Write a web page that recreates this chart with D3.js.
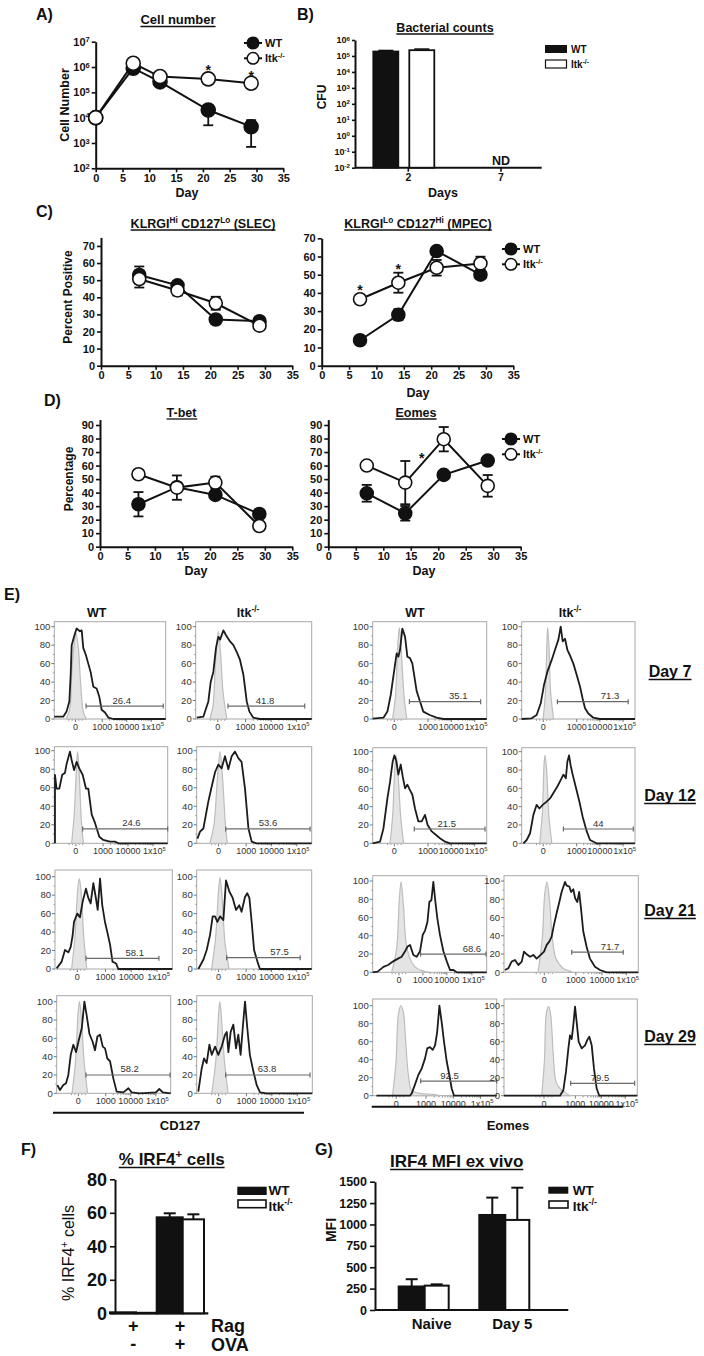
<!DOCTYPE html>
<html><head><meta charset="utf-8">
<script src="https://cdn.jsdelivr.net/npm/d3@7"></script>
<style>
body{margin:0;background:#fff}
svg{display:block}
text{font-family:"Liberation Sans",Arial,Helvetica,sans-serif}
</style></head><body>
<svg id="c" width="704" height="1356"></svg>
<script>
// ================= DATA =================
// Panel A: cell number (log)
const aDays=[0,7,12,21,29];
const aWT=[1e4,9e5,2.6e5,2e4,4.4e3];
const aWTlo=[null,null,1.8e5,5e3,7e2];
const aWThi=[null,null,null,3.2e4,8e3];
const aItk=[1e4,1.4e6,4.2e5,3.4e5,2.3e5];
const aStarDays=[21,29];
const aStarVals=[1e6,5.7e5];
const aYExp=[2,3,4,5,6,7];
const dayTicks=[0,5,10,15,20,25,30,35];

// Panel B: bacterial counts
const bDays=["2","7"];
const bWT=[1.9e5,null];
const bItk=[2.3e5,null];
const bWTerr=[2.2e5,null];
const bItkErr=[2.7e5,null];
const bYExp=[-2,-1,0,1,2,3,4,5,6];

// Panel C
const cDays=[7,14,21,29];
const slecWT=[53,47,27,26], slecWTsem=[5,1.5,1,1];
const slecItk=[50.7,44,36.5,23.4], slecItkSem=[5,3,3.8,1];
const mpecWT=[14,28,63,50], mpecWTsem=[1,3,1,1.5];
const mpecItk=[36.5,45.6,53.8,56.2], mpecItkSem=[1,5.5,4.3,3.7];
const mpecStarDays=[7,14], mpecStarVals=[43.4,55];
const cYTicks=[0,10,20,30,40,50,60,70];

// Panel D
const tbetWT=[31.4,44,38.3,24.2], tbetWTsem=[9,2,1.5,1];
const tbetItk=[53.6,43.7,47.4,15.3], tbetItkSem=[1,9,4.4,1];
const eomWT=[39.5,24.7,53.1,63.7], eomWTsem=[6.2,5.4,1,1];
const eomItk=[60,47.4,79.5,45], eomItkSem=[1,16,9,8];
const eomStarDays=[17], eomStarVals=[67.8];
const dYTicks=[0,10,20,30,40,50,60,70,80,90];

// Panel E: histograms [channel (0-100 of axis), % of max]
const r1c1=[[0,2.5],[8,2.5],[11,8],[13.5,19],[14.7,48],[15.6,80],[17.7,89],[20,98],[23,95],[24.6,96],[26,77],[28.4,69],[30.5,60],[32.6,51],[35,35],[38,33],[40.4,24],[42.5,10],[45.5,7],[48.5,1.5],[53,0],[100,0]];
const r1c1i=[[11,0.7],[14,11.5],[15.6,48],[17.7,80],[19.5,93],[21.6,77],[23.7,37],[26,8],[28.4,0.7]];
const r1c2=[[0.9,1.4],[6.6,2.5],[10.9,19],[12.9,40],[15.2,51],[17.5,77],[19.5,89],[21,86],[23.9,96],[26,91],[29.6,84],[32.5,80],[35.9,71],[38.2,64],[41.1,48],[44,19],[46.3,8],[49.7,1.4],[55.5,0],[100,0]];
const r1c2i=[[12.4,0.5],[15,15],[17,60],[19.5,95],[21.5,70],[23.5,30],[26.7,1]];
const r1c3=[[0,0.5],[9.4,1.4],[12.9,8],[15.8,26],[18.7,51],[21,71],[22.5,67.5],[24,75],[26,98],[28.4,89],[30.4,67.5],[32.7,66],[34.8,60],[36.3,48],[38.6,30],[41.5,19],[44.4,8],[50,4.3],[56,1.4],[62,0],[100,0]];
const r1c3i=[[17.5,0.5],[20,25],[22,80],[23.4,99],[25,75],[27.5,25],[29.8,1]];
const r1c4=[[0,0],[8.8,0.7],[13.2,4.3],[16.8,17],[19.7,37],[22.6,51],[26.5,64],[29.4,75],[32.4,86],[34.4,100],[36.2,84],[38.2,87],[40.3,75],[42.6,69],[45.6,60],[48.5,48],[51.5,35],[53.8,22],[55.9,11.6],[58.8,6],[63.2,1.4],[69,0],[100,0]];
const r1c4i=[[19,0.5],[21,30],[22.3,85],[22.9,99],[24,80],[25.5,30],[28,1]];
const r2c1=[[0.6,0],[0.6,74],[2,59],[4.4,59],[7,74],[9.4,76],[10.9,86],[13.8,99],[15.3,90],[17.4,79],[19.7,88],[22,81],[25,74],[28,59],[30,59],[33,31],[35.9,22],[39.7,7],[43.2,3.6],[49,1.8],[53.5,1.8],[56.5,0],[100,0]];
const r2c1i=[[15.3,0.5],[17.5,30],[19.5,80],[20.6,99],[22,75],[23.8,25],[25.6,1]];
const r2c2=[[0.6,5],[2.9,12.6],[5.8,16],[10.1,45],[13,61],[16,77],[18.8,85],[21.7,81],[24.6,94],[27.5,80],[30.4,94],[33.3,99],[36.2,92],[39,88],[42,59],[45,16],[47.8,1.8],[52,0],[100,0]];
const r2c2i=[[11.5,0.5],[15,20],[18,70],[20.3,99],[22.5,70],[25,20],[26.5,1]];
const r2c3=[[0,0],[6.4,1.8],[9.4,16],[12.9,49],[15.2,67],[17.5,89],[19,96],[20.5,91],[22.5,75],[24.6,86],[26.3,73],[28.4,60],[30.4,64],[32.7,58],[34.8,53],[37.1,38],[40,24],[43,24],[45.9,31],[48.2,20],[51.8,13],[55.6,9],[59,5.5],[63.5,1.8],[67.8,0],[100,0]];
const r2c3i=[[15.2,0.5],[17.5,30],[19.5,85],[20.5,96],[22,80],[24.5,30],[27,1]];
const r2c4=[[1.5,0],[4.4,3.6],[7.4,11],[10.3,31],[13.2,42],[15.6,38],[18.5,42],[21.5,45],[25,49],[28.5,56],[31.5,62],[34.4,69],[36.8,75],[39,71],[40.3,89],[41.8,96],[43.2,85],[45,75],[48,60],[51,45],[53.8,29],[57.4,13],[60.3,3.6],[66,0],[100,0]];
const r2c4i=[[16,0.5],[18.3,35],[19.8,88],[20.6,96],[22,80],[24,30],[26.5,1]];
const r3c1=[[1.4,0.7],[5.7,8],[8.5,20.6],[11.4,18],[13.4,24],[15,36],[16.2,51],[19,60],[21.3,56],[23.6,73],[26.4,87],[28.4,77],[30.4,71],[32.7,93],[34.7,78],[36.4,64],[38.4,98],[40.3,69],[42.6,51],[44.6,40],[47,26],[49,8],[52,6],[54,0],[100,0]];
const r3c1i=[[14.2,0.5],[17,35],[19.3,85],[20.7,98],[22.5,80],[24.5,35],[27,1]];
const r3c2=[[1.4,0],[5.8,10],[8.7,20.6],[11.6,37],[13.9,57],[15.9,57],[18,51],[20.3,57],[23.2,53],[25.5,96],[28.4,84],[31.3,77],[34.2,64],[37,69],[39,62],[42,78],[44,82],[45.8,77],[47.8,51],[49.9,20.6],[52.8,8],[55,0],[100,0]];
const r3c2i=[[13,0.5],[16.5,35],[19,85],[20.3,99],[22,80],[24.5,30],[28,1]];
const r3c3=[[0,0],[4.4,0.7],[9.4,6],[13.5,8],[18,12],[22.2,15],[25.4,17],[28.4,23],[30.4,28],[32.7,30],[35.7,19],[38.6,17],[41.5,23],[43.9,41],[46,46],[48,55],[49.7,77],[51.5,79],[53.2,99],[55,77],[56.7,59],[59,41],[62,23],[65,12],[67.8,2.5],[70.8,2.5],[73.7,0],[100,0]];
const r3c3i=[[16.7,0.7],[21,26],[23.4,81],[24.9,99],[27,73],[29.2,33],[32.7,15],[37,6],[44,1.5],[50,0]];
const r3c4=[[0.7,2.5],[3.2,4.4],[5.7,11.7],[8.2,13.5],[10.7,8],[13.2,11.7],[14.9,22.6],[16.9,19.7],[19.4,17],[21.8,19],[24.3,15],[27.3,19],[29.8,22.6],[31.8,30],[33.7,33.6],[35.5,39],[37.2,52],[39.2,65],[41.2,77],[42.9,88],[45.4,99],[46.7,95],[48.6,94],[50,88],[51.6,91],[53,81],[54.6,77],[56,88],[57.6,66],[59,45],[61.5,28],[64,15],[67.7,6],[71.5,2.5],[76.4,0],[100,0]];
const r3c4i=[[25.3,0],[28.5,37],[30.3,85],[32,99],[34,77],[36,37],[38.7,15],[44,4.4],[50.4,0.7]];
const r4c1=[[0.6,9],[2.9,3.6],[5.8,9],[8.2,11],[10.2,20],[12.3,42],[14.6,53],[17,45],[19,56],[22,71],[24.3,100],[26.3,85],[28.7,65],[31.6,56],[33.6,47],[35.7,62],[38,64],[40.4,51],[42.4,49],[44.4,38],[46.8,35],[49.7,16],[52.6,1.8],[58.5,1],[62.9,5.5],[65.8,1],[73,0],[87,1],[90,4.7],[93,1],[100,0]];
const r4c1i=[[13.5,0.5],[16.5,35],[18.8,88],[20,100],[21.8,80],[24,35],[27,1]];
const r4c2=[[1.4,1.8],[4.3,27],[6.3,38],[8.6,33],[11,53],[13,42],[15.9,51],[18.7,42],[21.6,51],[24.5,64],[26,67],[27.4,45],[29.4,67],[31.7,75],[34,49],[36,64],[38,42],[39.8,71],[41.8,100],[43.8,71],[46,42],[49,24],[51.9,9],[54.8,1],[60.5,0],[100,0]];
const r4c2i=[[13,0.5],[16.5,35],[19,88],[20,100],[21.5,80],[24,35],[27,1]];
const r4c3=[[3,0],[30,0],[31.5,2.6],[34,12],[36.8,23],[39.5,30],[42.2,41.5],[44,52.6],[46.2,54],[48.4,51],[50.3,56],[52,71],[53.8,100],[55.6,82],[57.5,60],[59.7,38],[61.8,23],[63.7,8],[65.6,0],[100,0]];
const r4c3i=[[16,0],[18.8,38],[20.7,90],[22.6,100],[24.7,93],[26.6,60],[28.8,23],[31.5,6],[38,2.6],[49,1.5],[54,0]];
const r4c4=[[0,0],[42,0],[44.5,6],[46.5,26.7],[48.3,52.6],[49.5,67],[50.8,63],[52,78.5],[53.3,99],[54.5,82],[56,60],[58.3,52.6],[60.8,56],[62.5,62],[64,65.6],[65.8,56],[67.5,30],[69.5,8],[71.5,0],[100,0]];
const r4c4i=[[28.3,0],[30.3,38],[32,94],[33.5,99],[35,90],[37,45],[39,15.6],[42,8],[45.8,3.7],[49.5,0]];
// gates: [start, end, level, label position, label]
const eGates=[
 [[28.5,97.8,14,60.5,"26.4"],[27.8,94,14,59.8,"41.8"],[32.2,94.7,18.8,75,"35.1"],[31.5,94,18.8,78,"71.3"]],
 [[25,100,15.5,68,"24.6"],[25.2,98.6,15.5,62,"53.6"],[36.5,98.5,15.6,65,"21.5"],[36.8,98.5,15.6,67.6,"44"]],
 [[26.4,88.6,11.6,68,"58.1"],[26,90,12.3,72,"57.5"],[42,99.4,20,87,"68.6"],[50.4,88.8,22,79,"71.7"]],
 [[25.7,99.4,20,64,"58.2"],[25,98,20,60.8,"63.8"],[38.7,100,16.3,62,"92.5"],[50,98,13.7,72,"79.5"]]];
const eTickLabels=["0","1000","10000","1x10"];
const ticksA=[19,43,65,87], ticksB=[19,48.5,69,89.5], ticksC=[23,44,65,87], ticksD=[30,53.5,73,91];
const eYTicks=[0,20,40,60,80,100];
const eDays=["Day 7","Day 12","Day 21","Day 29"];

// Panel F
const fGroups=["g1","g2"];
const fRag=["+","+"], fOva=["-","+"];
const fWT=[0.6,57.3], fItk=[0.3,56.1];
const fWTerr=[null,59.7], fItkErr=[null,59.1];
const fYTicks=[0,20,40,60,80];

// Panel G
const gGroups=["Naive","Day 5"];
const gWT=[275,1111], gItk=[285,1053];
const gWTerr=[360,1314], gItkErr=[300,1430];
const gYTicks=[0,250,500,750,1000,1250,1500];

// ================= DRAWING =================
const svg=d3.select('#c');
const INK='#111';

function rich(t,parts,fs){
  let up=false;
  parts.forEach(p=>{
    const ts=t.append('tspan').text(p[0]);
    if(p[1]){ts.attr('font-size',fs*0.66).attr('dy',up?0:-fs*0.4);up=true;}
    else if(up){ts.attr('dy',fs*0.4);up=false;}
  });
}
function txt(g,x,y,s,o={}){
  const fs=o.fs||12;
  const t=g.append('text').attr('x',x).attr('y',y).attr('font-size',fs)
    .attr('font-weight',o.fw||'bold').attr('text-anchor',o.anchor||'start').attr('fill',o.fill||INK);
  if(o.rot!==undefined) t.attr('transform',`rotate(${o.rot},${x},${y})`);
  rich(t,typeof s==='string'?[[s]]:s,fs);
  return t;
}
function underline(g,t,dy,w){
  const b=t.node().getBBox();const y=+t.attr('y')+dy;
  g.append('line').attr('x1',b.x).attr('x2',b.x+b.width).attr('y1',y).attr('y2',y)
   .attr('stroke',INK).attr('stroke-width',w||1.3);
}
function styleAxis(a,fs){
  a.attr('font-family',null).attr('font-size',null);
  a.select('.domain').attr('stroke',INK).attr('stroke-width',2);
  a.selectAll('.tick line').attr('stroke',INK).attr('stroke-width',1.6);
  a.selectAll('.tick text').attr('font-size',fs).attr('font-weight','bold').attr('fill',INK);
}
const supFmt=function(d){const t=d3.select(this);const e=Math.round(Math.log10(d));t.text(null);
  t.append('tspan').text('10');t.append('tspan').attr('dy','-0.45em').attr('font-size','0.68em').text(e);};

function linePanel(o){
  const g=svg.append('g');const x=o.x,y=o.y;
  const gy=g.append('g').attr('transform',`translate(${x.range()[0]},0)`)
    .call(d3.axisLeft(y).tickValues(o.yTicks).tickSize(4).tickSizeOuter(0).tickPadding(2));
  const gx=g.append('g').attr('transform',`translate(0,${y.range()[0]})`)
    .call(d3.axisBottom(x).tickValues(dayTicks).tickSize(4).tickSizeOuter(0).tickPadding(2));
  styleAxis(gy,o.fs||11);styleAxis(gx,o.fs||11);
  if(o.supY) gy.selectAll('.tick text').each(supFmt);
  const line=d3.line().defined(d=>d[1]!=null).x(d=>x(d[0])).y(d=>y(d[1]));
  const series=[{v:o.wt,lo:o.wtLo,hi:o.wtHi,fill:INK},{v:o.itk,lo:o.itkLo,hi:o.itkHi,fill:'#fff'}];
  series.forEach(s=>g.append('path').attr('d',line(o.days.map((d,i)=>[d,s.v[i]])))
    .attr('fill','none').attr('stroke',INK).attr('stroke-width',2));
  const cw=5;
  series.forEach(s=>o.days.forEach((d,i)=>{
    const lo=s.lo?s.lo[i]:null, hi=s.hi?s.hi[i]:null; if(lo==null&&hi==null) return;
    const a=y(lo!=null?lo:s.v[i]), b=y(hi!=null?hi:s.v[i]), cx=x(d);
    g.append('line').attr('x1',cx).attr('x2',cx).attr('y1',a).attr('y2',b).attr('stroke',INK).attr('stroke-width',1.8);
    if(lo!=null) g.append('line').attr('x1',cx-cw).attr('x2',cx+cw).attr('y1',a).attr('y2',a).attr('stroke',INK).attr('stroke-width',1.8);
    if(hi!=null) g.append('line').attr('x1',cx-cw).attr('x2',cx+cw).attr('y1',b).attr('y2',b).attr('stroke',INK).attr('stroke-width',1.8);
  }));
  series.forEach(s=>o.days.forEach((d,i)=>{ if(s.v[i]==null) return;
    g.append('circle').attr('cx',x(d)).attr('cy',y(s.v[i])).attr('r',o.r||6.5)
     .attr('fill',s.fill).attr('stroke',INK).attr('stroke-width',1.6);}));
  if(o.stars) o.stars[0].forEach((d,i)=>txt(g,x(d),y(o.stars[1][i])+8,'*',{fs:14,anchor:'middle'}));
  return g;
}
function legendLines(cx,cy,gap){
  const g=svg.append('g');
  [[true,[['WT']]],[false,[['Itk'],['-/-',1]]]].forEach((l,i)=>{
    const yy=cy+i*gap;
    g.append('line').attr('x1',cx-9).attr('x2',cx+9).attr('y1',yy).attr('y2',yy).attr('stroke',INK).attr('stroke-width',2);
    g.append('circle').attr('cx',cx).attr('cy',yy).attr('r',5.8).attr('fill',l[0]?INK:'#fff').attr('stroke',INK).attr('stroke-width',1.5);
    txt(g,cx+12,yy+4,l[1],{fs:11});
  });
}
function resids(v,s,sign){return v.map((d,i)=>d+sign*s[i]);}

// ---- Panel A ----
{
  const x=d3.scaleLinear().domain([0,35]).range([95.7,283.3]);
  const y=d3.scaleLog().domain([1e2,1e7]).range([168.3,41.7]);
  linePanel({x,y,days:aDays,wt:aWT,wtLo:aWTlo,wtHi:aWThi,itk:aItk,yTicks:aYExp.map(e=>10**e),supY:true,r:7,stars:[aStarDays,aStarVals]});
  const g=svg.append('g');
  txt(g,36,20,'A)',{fs:16});
  underline(g,txt(g,178,24,'Cell number',{fs:13,anchor:'middle'}),2.5);
  txt(g,69,105,'Cell Number',{fs:12.5,anchor:'middle',rot:-90});
  txt(g,187,197,'Day',{fs:12.5,anchor:'middle'});
  legendLines(253,43,15.3);
}
// ---- Panel B ----
{
  const g=svg.append('g');
  const y=d3.scaleLog().domain([1e-2,1e6]).range([167.7,40]);
  const x=d3.scalePoint().domain(bDays).range([408.3,501]);
  const gy=g.append('g').attr('transform','translate(355,0)')
    .call(d3.axisLeft(y).tickValues(bYExp.map(e=>10**e)).tickSize(3).tickSizeOuter(0).tickPadding(2));
  styleAxis(gy,9);gy.selectAll('.tick text').each(supFmt);
  g.append('line').attr('x1',355).attr('x2',541.7).attr('y1',y(1e-2)).attr('y2',y(1e-2)).attr('stroke',INK).attr('stroke-width',2);
  bDays.forEach(d=>{
    g.append('line').attr('x1',x(d)).attr('x2',x(d)).attr('y1',y(1e-2)).attr('y2',y(1e-2)+4).attr('stroke',INK).attr('stroke-width',1.6);
    txt(g,x(d),y(1e-2)+13,d,{fs:10.5,anchor:'middle'});
  });
  bDays.forEach((d,i)=>{
    const c=x(d)-4.5;
    [[bWT[i],bWTerr[i],c-30.5,INK],[bItk[i],bItkErr[i],c+5.5,'#fff']].forEach(b=>{
      if(b[0]==null){return;}
      g.append('line').attr('x1',b[2]+12.5).attr('x2',b[2]+12.5).attr('y1',y(b[0])).attr('y2',y(b[1])).attr('stroke',INK).attr('stroke-width',1.6);
      g.append('line').attr('x1',b[2]+5).attr('x2',b[2]+20).attr('y1',y(b[1])).attr('y2',y(b[1])).attr('stroke',INK).attr('stroke-width',1.6);
      g.append('rect').attr('x',b[2]).attr('y',y(b[0])).attr('width',25).attr('height',y(1e-2)-y(b[0]))
        .attr('fill',b[3]).attr('stroke',INK).attr('stroke-width',1.8);
    });
    if(bWT[i]==null) txt(g,x(d),165,'ND',{fs:12.5,anchor:'middle'});
  });
  txt(g,297,20,'B)',{fs:16});
  underline(g,txt(g,445,31.5,'Bacterial counts',{fs:12.5,anchor:'middle'}),2.5);
  txt(g,326,97,'CFU',{fs:12,anchor:'middle',rot:-90});
  txt(g,443,197,'Days',{fs:12.5,anchor:'middle'});
  g.append('rect').attr('x',545).attr('y',45).attr('width',22).attr('height',8).attr('fill',INK);
  g.append('rect').attr('x',545.5).attr('y',60).attr('width',21).attr('height',8).attr('fill','#fff').attr('stroke',INK).attr('stroke-width',1.2);
  txt(g,571,53,'WT',{fs:10});
  txt(g,571,68,[['Itk'],['-/-',1]],{fs:10});
}
// ---- Panel C ----
{
  const xL=d3.scaleLinear().domain([0,35]).range([101,292.3]);
  const yL=d3.scaleLinear().domain([0,75]).range([365.7,237.4]);
  linePanel({x:xL,y:yL,days:cDays,wt:slecWT,wtLo:resids(slecWT,slecWTsem,-1),wtHi:resids(slecWT,slecWTsem,1),
    itk:slecItk,itkLo:resids(slecItk,slecItkSem,-1),itkHi:resids(slecItk,slecItkSem,1),yTicks:cYTicks,r:6.5});
  const xR=d3.scaleLinear().domain([0,35]).range([321.7,513.3]);
  const yR=d3.scaleLinear().domain([0,70]).range([365.7,238.3]);
  linePanel({x:xR,y:yR,days:cDays,wt:mpecWT,wtLo:resids(mpecWT,mpecWTsem,-1),wtHi:resids(mpecWT,mpecWTsem,1),
    itk:mpecItk,itkLo:resids(mpecItk,mpecItkSem,-1),itkHi:resids(mpecItk,mpecItkSem,1),yTicks:cYTicks,r:6.5,stars:[mpecStarDays,mpecStarVals]});
  const g=svg.append('g');
  txt(g,36,216.5,'C)',{fs:16});
  underline(g,txt(g,203,227.5,[['KLRGI'],['Hi',1],[' CD127'],['Lo',1],[' (SLEC)']],{fs:12.5,anchor:'middle'}),2.5);
  underline(g,txt(g,418,227.5,[['KLRGI'],['Lo',1],[' CD127'],['Hi',1],[' (MPEC)']],{fs:12.5,anchor:'middle'}),2.5);
  txt(g,72,297,'Percent  Positive',{fs:12,anchor:'middle',rot:-90});
  txt(g,418,397,'Day',{fs:12.5,anchor:'middle'});
  legendLines(511,249,15.3);
}
// ---- Panel D ----
{
  const xL=d3.scaleLinear().domain([0,35]).range([100,292.3]);
  const yL=d3.scaleLinear().domain([0,94]).range([546.7,419.6]);
  linePanel({x:xL,y:yL,days:cDays,wt:tbetWT,wtLo:resids(tbetWT,tbetWTsem,-1),wtHi:resids(tbetWT,tbetWTsem,1),
    itk:tbetItk,itkLo:resids(tbetItk,tbetItkSem,-1),itkHi:resids(tbetItk,tbetItkSem,1),yTicks:dYTicks,r:6.5});
  const xR=d3.scaleLinear().domain([0,35]).range([328.3,520.7]);
  const yR=d3.scaleLinear().domain([0,94]).range([546.7,419.6]);
  linePanel({x:xR,y:yR,days:cDays,wt:eomWT,wtLo:resids(eomWT,eomWTsem,-1),wtHi:resids(eomWT,eomWTsem,1),
    itk:eomItk,itkLo:resids(eomItk,eomItkSem,-1),itkHi:resids(eomItk,eomItkSem,1),yTicks:dYTicks,r:6.5,stars:[eomStarDays,eomStarVals]});
  const g=svg.append('g');
  txt(g,44,406,'D)',{fs:16});
  underline(g,txt(g,181.5,416.5,'T-bet',{fs:12.5,anchor:'middle'}),2.5);
  underline(g,txt(g,416,416.5,'Eomes',{fs:12.5,anchor:'middle'}),2.5);
  txt(g,73,479,'Percentage',{fs:12,anchor:'middle',rot:-90});
  txt(g,196,575,'Day',{fs:12.5,anchor:'middle'});
  txt(g,424,575,'Day',{fs:12.5,anchor:'middle'});
  legendLines(511,439,15.3);
}
// ---- Panel E ----
{
  const g=svg.append('g');
  const boxX=[
    [[54.3,165.7],[195.7,311.7],[372.7,486.7],[521.7,635]],
    [[54.3,167.7],[196.7,311.7],[372.7,486.7],[521.7,635]],
    [[55,172.3],[196.7,311.7],[372.7,486.7],[504,638.3]],
    [[56.7,170.7],[196.7,312.3],[372.7,496.7],[504,637.3]]];
  const boxY=[
    [[621.7,626.7,719],[621.7,626.7,719]],
    [[746.7,750.7,843.3],[747.7,751.7,843.3]],
    [[870,876.7,969],[875.7,881,972.3]],
    [[995.7,1001.7,1093.3],[999,1005.7,1095.7]]];
  const black=[[r1c1,r1c2,r1c3,r1c4],[r2c1,r2c2,r2c3,r2c4],[r3c1,r3c2,r3c3,r3c4],[r4c1,r4c2,r4c3,r4c4]];
  const iso=[[r1c1i,r1c2i,r1c3i,r1c4i],[r2c1i,r2c2i,r2c3i,r2c4i],[r3c1i,r3c2i,r3c3i,r3c4i],[r4c1i,r4c2i,r4c3i,r4c4i]];
  const tk=[[ticksA,ticksA,ticksB,ticksB],[ticksA,ticksA,ticksB,ticksB],[ticksA,ticksA,ticksC,ticksD],[ticksA,ticksA,ticksA,ticksD]];
  for(let r=0;r<4;r++) for(let c=0;c<4;c++){
    const [x0,x1]=boxX[r][c]; const [top,y100,y0]=boxY[r][c>1?1:0];
    const x=d3.scaleLinear().domain([0,100]).range([x0,x1]);
    const y=d3.scaleLinear().domain([0,100]).range([y0,y100]);
    const p=g.append('g');
    p.append('rect').attr('x',x0).attr('y',top).attr('width',x1-x0).attr('height',y0-top)
      .attr('fill','none').attr('stroke','#a8a8a8').attr('stroke-width',1);
    eYTicks.forEach(v=>{
      p.append('line').attr('x1',x0-3).attr('x2',x0).attr('y1',y(v)).attr('y2',y(v)).attr('stroke','#777');
      txt(p,x0-4,y(v)+3.3,String(v),{fs:9.5,fw:'normal',anchor:'end',fill:'#333'});
      if(v<100) p.append('line').attr('x1',x0-1.5).attr('x2',x0).attr('y1',y(v+10)).attr('y2',y(v+10)).attr('stroke','#999');
    });
    const t=tk[r][c];
    t.forEach((tv,i)=>{
      p.append('line').attr('x1',x(tv)).attr('x2',x(tv)).attr('y1',y0).attr('y2',y0+3).attr('stroke','#777');
      if(i<3) txt(p,x(tv),y0+11,eTickLabels[i],{fs:9,fw:'normal',anchor:'middle',fill:'#333'});
      else txt(p,x(tv)+1.5,y0+11,[[eTickLabels[i]],['5',1]],{fs:9,fw:'normal',anchor:'middle',fill:'#333'});
      if(i>0&&i<3){ for(let k=2;k<10;k++){const xv=t[i]+(t[i+1]-t[i])*Math.log10(k);
        p.append('line').attr('x1',x(xv)).attr('x2',x(xv)).attr('y1',y0).attr('y2',y0+1.8).attr('stroke','#999');}}
    });
    [t[0]-6,t[0]-3,t[0]+3,t[0]+6].forEach(xv=>p.append('line').attr('x1',x(xv)).attr('x2',x(xv)).attr('y1',y0).attr('y2',y0+1.8).attr('stroke','#999'));
    p.append('path').attr('d',d3.area().x(d=>x(d[0])).y0(y(0)).y1(d=>y(d[1])).curve(d3.curveCatmullRom)(iso[r][c]))
      .attr('fill','#e4e4e4').attr('stroke','#bdbdbd').attr('stroke-width',1.2);
    p.append('path').attr('d',d3.line().x(d=>x(d[0])).y(d=>y(d[1]))(black[r][c]))
      .attr('fill','none').attr('stroke','#1c1c1c').attr('stroke-width',1.8).attr('stroke-linejoin','round');
    const gt=eGates[r][c], gy=y(gt[2]);
    p.append('line').attr('x1',x(gt[0])).attr('x2',x(gt[1])).attr('y1',gy).attr('y2',gy).attr('stroke','#6a6a6a').attr('stroke-width',1.2);
    [gt[0],gt[1]].forEach(v=>p.append('line').attr('x1',x(v)).attr('x2',x(v)).attr('y1',gy-2.5).attr('y2',gy+2.5).attr('stroke','#6a6a6a').attr('stroke-width',1.2));
    txt(p,x(gt[3]),gy-2.5,gt[4],{fs:9.5,fw:'normal',anchor:'middle',fill:'#333'});
  }
  txt(g,4,600,'E)',{fs:16});
  txt(g,96.7,617,'WT',{fs:12.5,anchor:'middle'});
  txt(g,248,617,[['Itk'],['-/-',1]],{fs:12.5,anchor:'middle'});
  txt(g,415,617,'WT',{fs:12.5,anchor:'middle'});
  txt(g,570,617,[['Itk'],['-/-',1]],{fs:12.5,anchor:'middle'});
  const dayY=[677,801,916,1042];
  eDays.forEach((d,i)=>underline(g,txt(g,670,dayY[i],d,{fs:16,anchor:'middle'}),2.5,1.6));
  g.append('line').attr('x1',53).attr('x2',304).attr('y1',1112.7).attr('y2',1112.7).attr('stroke',INK).attr('stroke-width',2);
  g.append('line').attr('x1',371.7).attr('x2',623.3).attr('y1',1106.7).attr('y2',1106.7).attr('stroke',INK).attr('stroke-width',2);
  txt(g,180,1130,'CD127',{fs:13,anchor:'middle'});
  txt(g,508,1130,'Eomes',{fs:13,anchor:'middle'});
}
// ---- bar helper ----
function barPanel(o){
  const g=svg.append('g');const x=o.x,y=o.y;
  const gy=g.append('g').attr('transform',`translate(${o.ax},0)`)
    .call(d3.axisLeft(y).tickValues(o.yTicks).tickFormat(d3.format('d')).tickSize(5).tickSizeOuter(0).tickPadding(3));
  styleAxis(gy,o.fs);
  g.append('line').attr('x1',o.ax).attr('x2',o.axEnd).attr('y1',y(0)).attr('y2',y(0)).attr('stroke',INK).attr('stroke-width',2.2);
  o.groups.forEach((d,i)=>{
    const c=x(d);
    [[o.wt[i],o.wtErr[i],c+o.off[0],o.off[1]-o.off[0],INK],[o.itk[i],o.itkErr[i],c+o.off[1],o.off[2]-o.off[1],'#fff']].forEach(b=>{
      if(b[1]!=null){const bx=b[2]+b[3]/2;
        g.append('line').attr('x1',bx).attr('x2',bx).attr('y1',y(b[0])).attr('y2',y(b[1])).attr('stroke',INK).attr('stroke-width',2);
        g.append('line').attr('x1',bx-6).attr('x2',bx+6).attr('y1',y(b[1])).attr('y2',y(b[1])).attr('stroke',INK).attr('stroke-width',2);}
      g.append('rect').attr('x',b[2]).attr('y',y(b[0])).attr('width',b[3]).attr('height',y(0)-y(b[0]))
        .attr('fill',b[4]).attr('stroke',INK).attr('stroke-width',2);
    });
  });
  return g;
}
// ---- Panel F ----
{
  const x=d3.scalePoint().domain(fGroups).range([133.3,180]);
  const y=d3.scaleLinear().domain([0,80]).range([1313.3,1179.3]);
  const g=barPanel({x,y,ax:115,axEnd:208.3,yTicks:fYTicks,fs:18,groups:fGroups,wt:fWT,wtErr:fWTerr,itk:fItk,itkErr:fItkErr,off:[-23.3,2.7,24]});
  fGroups.forEach((d,i)=>{txt(g,x(d),1332,fRag[i],{fs:18,anchor:'middle'});txt(g,x(d),1350,fOva[i],{fs:18,anchor:'middle'});});
  txt(g,211,1332,'Rag',{fs:18});
  txt(g,211,1351,'OVA',{fs:18});
  txt(g,21,1155,'F)',{fs:16});
  underline(g,txt(g,171.7,1165,[['% IRF4'],['+',1],[' cells']],{fs:17,anchor:'middle'}),2.5,1.6);
  txt(g,74,1253,[['% IRF4'],['+',1],[' cells']],{fs:16,fw:'normal',anchor:'middle',rot:-90});
  g.append('rect').attr('x',237.3).attr('y',1186.7).attr('width',29.4).attr('height',8.3).attr('fill',INK);
  g.append('rect').attr('x',238).attr('y',1200).attr('width',28).attr('height',7.7).attr('fill','#fff').attr('stroke',INK).attr('stroke-width',1.6);
  txt(g,268.5,1195,'WT',{fs:13.5});
  txt(g,268.5,1210.5,[['Itk'],['-/-',1]],{fs:13.5});
}
// ---- Panel G ----
{
  const x=d3.scalePoint().domain(gGroups).range([431.7,512.3]);
  const y=d3.scaleLinear().domain([0,1500]).range([1310,1181.7]);
  const g=barPanel({x,y,ax:375,axEnd:568.3,yTicks:gYTicks,fs:12.5,groups:gGroups,wt:gWT,wtErr:gWTerr,itk:gItk,itkErr:gItkErr,off:[-33,-7,17]});
  gGroups.forEach(d=>txt(g,x(d),1329,d,{fs:15,anchor:'middle'}));
  txt(g,315,1155,'G)',{fs:16});
  underline(g,txt(g,456.7,1167,'IRF4 MFI ex vivo',{fs:17,anchor:'middle'}),2.5,1.6);
  txt(g,336,1230,'MFI',{fs:14,anchor:'middle',rot:-90});
  g.append('rect').attr('x',548.3).attr('y',1186.7).attr('width',20).attr('height',7).attr('fill',INK);
  g.append('rect').attr('x',549).attr('y',1201).attr('width',19).attr('height',7).attr('fill','#fff').attr('stroke',INK).attr('stroke-width',1.6);
  txt(g,572.7,1195,'WT',{fs:13.5});
  txt(g,572.7,1210.5,[['Itk'],['-/-',1]],{fs:13.5});
}
</script></body></html>
